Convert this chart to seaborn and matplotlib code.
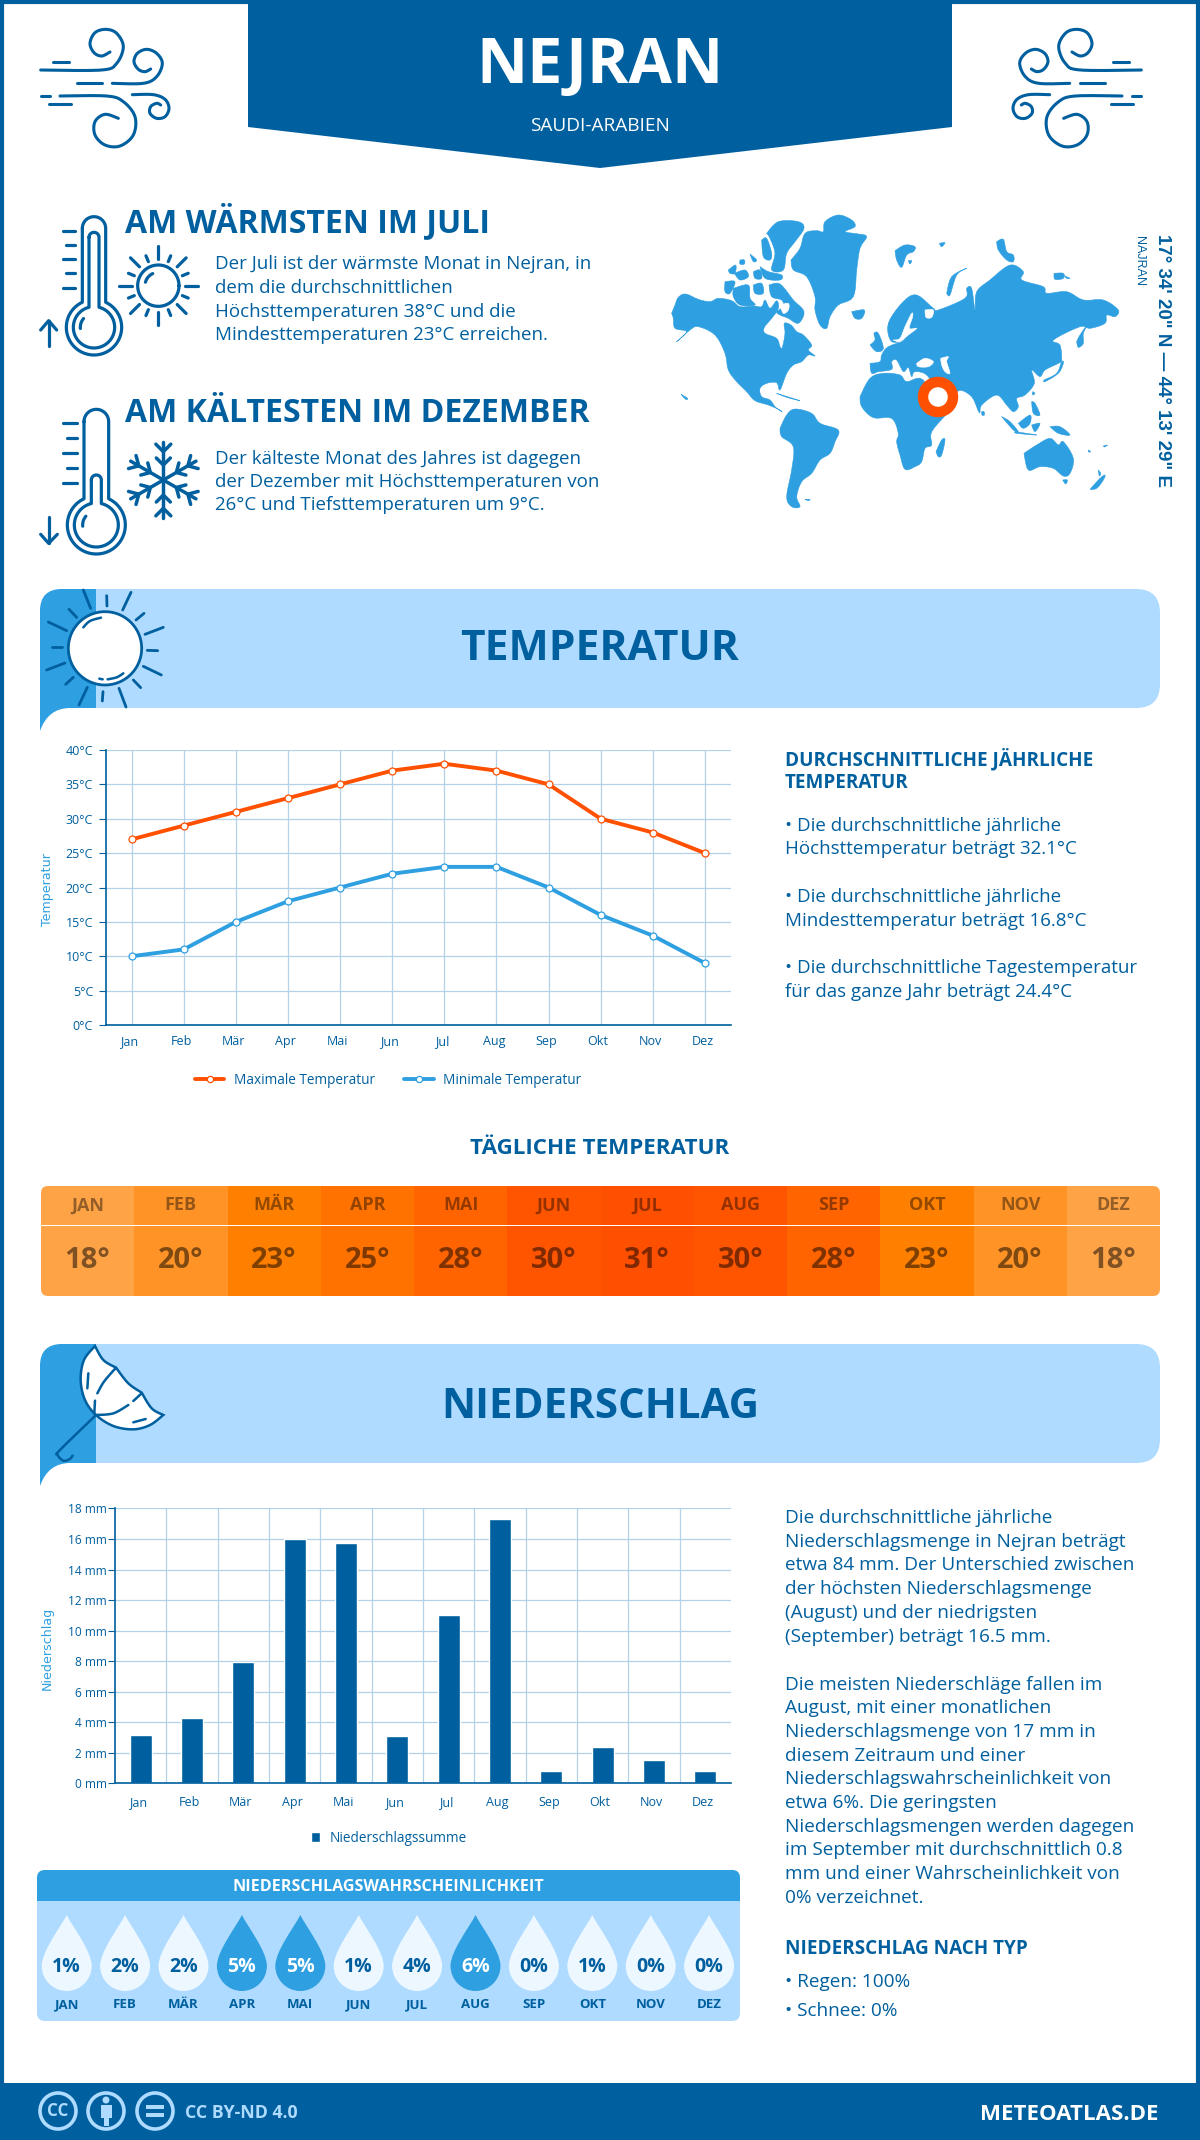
import numpy as np
import pandas as pd
import matplotlib
matplotlib.use('Agg')
import matplotlib.pyplot as plt
from matplotlib.colors import ListedColormap
from matplotlib.lines import Line2D
from matplotlib.patches import Circle, FancyBboxPatch, PathPatch, Polygon, Rectangle
from matplotlib.path import Path
from matplotlib.transforms import ScaledTranslation
import seaborn as sns

# Chart data
months = ['Jan', 'Feb', 'Mär', 'Apr', 'Mai', 'Jun', 'Jul', 'Aug', 'Sep', 'Okt', 'Nov', 'Dez']
months_upper = ['JAN', 'FEB', 'MÄR', 'APR', 'MAI', 'JUN', 'JUL', 'AUG', 'SEP', 'OKT', 'NOV', 'DEZ']
max_temp = [27, 29, 31, 33, 35, 37, 38, 37, 35, 30, 28, 25]
min_temp = [10, 11, 15, 18, 20, 22, 23, 23, 20, 16, 13, 9]
temp_ticks = [0, 5, 10, 15, 20, 25, 30, 35, 40]
daily_temp = [18, 20, 23, 25, 28, 30, 31, 30, 28, 23, 20, 18]
precip = [3.2, 4.3, 7.95, 16.0, 15.75, 3.1, 11.0, 17.3, 0.8, 2.4, 1.5, 0.8]
precip_ticks = [0, 2, 4, 6, 8, 10, 12, 14, 16, 18]
rain_prob = [1, 2, 2, 5, 5, 1, 4, 6, 0, 1, 0, 0]

DARK = '#005F9E'
MID = '#2E9FE0'
LIGHT = '#AEDBFF'
ORANGE = '#FF5000'
GRID = '#B4D2E7'
W, H = 1200, 2140

sns.set_style('white')
plt.rcParams['font.family'] = ['Open Sans', 'DejaVu Sans']

fig = plt.figure(figsize=(W / 100, H / 100), dpi=100, facecolor='white')
bg = fig.add_axes([0, 0, 1, 1])
bg.set_xlim(0, W)
bg.set_ylim(H, 0)
bg.axis('off')


def px_axes(x0, y0, x1, y1):
    ax = fig.add_axes([x0 / W, 1 - y1 / H, (x1 - x0) / W, (y1 - y0) / H])
    ax.patch.set_alpha(0)
    return ax


def label(x, y, s, px, weight='normal', color=DARK, ha='left', **kw):
    bg.text(x, y + 2, s, fontsize=px * 0.72, fontweight=weight, color=color, ha=ha, va='center', **kw)


def smooth(pts, n=14):
    # catmull-rom through the given points, only for the icons and the map
    p = np.array(pts, dtype=float)
    p = np.vstack([p[0], p, p[-1]])
    out = []
    for i in range(1, len(p) - 2):
        for t in np.linspace(0, 1, n, endpoint=False):
            out.append(0.5 * (2 * p[i] + (p[i + 1] - p[i - 1]) * t
                              + (2 * p[i - 1] - 5 * p[i] + 4 * p[i + 1] - p[i + 2]) * t ** 2
                              + (3 * p[i] - p[i - 1] - 3 * p[i + 1] + p[i + 2]) * t ** 3))
    out.append(p[-2])
    return np.array(out)


def stroke(pts, ox, oy, lw=2.0, color=DARK, mirror=None, curve=False, z=3):
    xy = smooth(pts) if curve else np.array(pts, dtype=float)
    x = ox + xy[:, 0] / 3
    y = oy + xy[:, 1] / 3
    if mirror is not None:
        x = mirror - x
    bg.plot(x, y, color=color, lw=lw, solid_capstyle='round', solid_joinstyle='round', zorder=z)


# frame, footer and top banner
bg.add_patch(Rectangle((2, 2), W - 4, H - 4, fc='none', ec=DARK, lw=3))
bg.add_patch(Rectangle((0, 2083), W, 57, fc=DARK, ec='none'))
bg.add_patch(Polygon([(248, 0), (952, 0), (952, 127), (600, 168), (248, 127)], fc=DARK, ec='none'))
label(600, 65, 'NEJRAN', 63, 'bold', 'white', 'center')
label(600, 124, 'SAUDI-ARABIEN', 19, 'normal', 'white', 'center')

# wind icons
wind = [
    [(62, 180), (245, 180), (290, 160), (310, 110), (290, 70), (258, 58), (225, 68), (210, 100), (222, 128), (245, 138), (270, 126)],
    [(277, 220), (370, 220), (410, 200), (427, 160), (410, 130), (380, 118), (352, 130), (342, 155), (355, 178), (375, 185), (392, 177)],
    [(120, 258), (260, 258), (310, 275), (345, 320), (340, 375), (300, 408), (255, 405), (225, 375), (225, 335), (255, 313), (295, 325)],
    [(337, 254), (400, 254), (435, 268), (447, 295), (435, 320), (410, 325), (390, 310), (392, 290), (410, 280), (422, 285)],
]
wind_dashes = [[(100, 155), (148, 155)], [(170, 220), (245, 220)], [(62, 258), (90, 258)], [(87, 283), (153, 283)]]
for mir in (None, 1182):
    for s in wind:
        stroke(s, 20, 10, 2.2, mirror=mir, curve=True)
    for s in wind_dashes:
        stroke(s, 20, 10, 2.2, mirror=mir)


def thermometer(cx, top, half, bulb_y, r_out, r_in, in_half, in_top, ox, oy):
    # outer outline with the bulb, then inner outline
    for h, t, r in ((half, top, r_out), (in_half, in_top, r_in)):
        phi = np.arcsin(h / r)
        a = np.linspace(np.pi / 2 - phi, -3 * np.pi / 2 + phi, 70)
        bx, by = cx + r * np.cos(a), bulb_y - r * np.sin(a)
        tp = np.linspace(np.pi, 0, 24)
        tx, ty = cx + h * np.cos(tp), t + h - h * np.sin(tp)
        stroke(np.column_stack([np.r_[tx, bx, tx[0]], np.r_[ty, by, ty[0]]]), ox, oy, 2.3)
    a = np.radians(np.linspace(140, 185, 12))
    stroke(np.column_stack([cx + 41 * np.cos(a), bulb_y - 41 * np.sin(a)]), ox, oy, 2.3)


thermometer(222, 50, 35, 382, 83, 62, 15, 97, 20, 200)
for y, x0 in zip([93, 135, 178, 220, 263], [128, 138, 128, 138, 128]):
    stroke([(x0, y), (165, y)], 20, 200, 2.3)
stroke([(86, 438), (86, 362)], 20, 200, 2.3)
stroke([(62, 390), (86, 362), (110, 390)], 20, 200, 2.3)

thermometer(229, 628, 37, 975, 87, 66, 15, 825, 20, 200)
for y, x0 in zip([670, 715, 760, 803, 848], [130, 140, 130, 140, 130]):
    stroke([(x0, y), (170, y)], 20, 200, 2.3)
stroke([(86, 950), (86, 1030)], 20, 200, 2.3)
stroke([(62, 1003), (86, 1030), (112, 1003)], 20, 200, 2.3)

# small sun
a = np.linspace(0, 2 * np.pi, 80)
stroke(np.column_stack([415 + 62 * np.cos(a), 257 + 62 * np.sin(a)]), 20, 200, 2.3)
a = np.radians(np.linspace(115, 165, 12))
stroke(np.column_stack([415 + 40 * np.cos(a), 257 - 40 * np.sin(a)]), 20, 200, 2.3)
for deg in range(0, 360, 45):
    t = np.radians(deg)
    stroke([(415 + 80 * np.cos(t), 257 + 80 * np.sin(t)), (415 + 118 * np.cos(t), 257 + 118 * np.sin(t))], 20, 200, 2.3)
    t = np.radians(deg + 22.5)
    stroke([(415 + 78 * np.cos(t), 257 + 78 * np.sin(t)), (415 + 97 * np.cos(t), 257 + 97 * np.sin(t))], 20, 200, 2.3)

# snowflake
for deg in range(30, 390, 60):
    t = np.radians(deg)
    d = np.array([np.cos(t), np.sin(t)])
    n = np.array([-d[1], d[0]])
    c = np.array([430, 840])
    stroke([c, c + 113 * d], 20, 200, 2.5)
    for dist, size in ((85, 30), (45, 28)):
        b = c + dist * d
        stroke([b + size * (0.75 * d + 0.75 * n), b, b + size * (0.75 * d - 0.75 * n)], 20, 200, 2.5)

# headings beside the icons
label(125, 219.5, 'AM WÄRMSTEN IM JULI', 32, 'bold')
warm_lines = ['Der Juli ist der wärmste Monat in Nejran, in', 'dem die durchschnittlichen',
              'Höchsttemperaturen 38°C und die', 'Mindesttemperaturen 23°C erreichen.']
for i, s in enumerate(warm_lines):
    label(215, 262 + i * 23.8, s, 18.8)
label(125, 412, 'AM KÄLTESTEN IM DEZEMBER', 32, 'bold')
cold_lines = ['Der kälteste Monat des Jahres ist dagegen', 'der Dezember mit Höchsttemperaturen von',
              '26°C und Tiefsttemperaturen um 9°C.']
for i, s in enumerate(cold_lines):
    label(215, 457 + i * 23.2, s, 18.8)

# world map, outlines sketched from three crops of the picture
crop_a = [
    [(20, 310), (30, 285), (40, 262), (62, 252), (100, 268), (135, 275), (160, 265), (200, 272), (225, 290), (265, 288), (290, 290), (300, 270), (315, 295), (335, 272), (340, 295), (320, 325), (298, 352), (300, 370), (335, 385), (345, 410), (352, 412), (360, 370), (358, 340), (378, 345), (395, 365), (415, 375), (440, 405), (430, 420), (450, 438), (430, 435), (410, 455), (385, 465), (365, 490), (345, 540), (335, 518), (305, 520), (285, 535), (290, 560), (315, 570), (330, 590), (350, 605), (345, 600), (310, 585), (270, 572), (245, 545), (215, 515), (190, 480), (180, 430), (150, 375), (100, 350), (75, 360), (35, 395), (65, 365), (30, 355), (25, 325)],
    [(312, 225), (345, 222), (385, 270), (417, 305), (400, 340), (370, 325), (345, 315), (335, 305), (355, 290), (350, 270), (320, 260)],
    [(205, 235), (250, 225), (255, 265), (270, 285), (225, 285), (205, 260)],
    [(180, 215), (210, 215), (195, 250), (180, 245)],
    [(265, 225), (290, 220), (295, 250), (270, 250)],
    [(190, 180), (212, 165), (210, 190), (195, 190)],
    [(208, 190), (240, 180), (250, 200), (225, 210)],
    [(265, 185), (285, 180), (290, 205), (270, 205)],
    [(285, 170), (310, 185), (350, 195), (345, 210), (300, 205)],
    [(255, 132), (275, 150), (265, 155)],
    [(225, 150), (238, 150), (238, 162), (225, 162)],
    [(305, 70), (340, 35), (400, 35), (417, 55), (390, 95), (365, 130), (355, 180), (320, 180), (330, 130), (315, 85)],
    [(290, 90), (305, 85), (320, 130), (315, 150), (295, 140)],
    [(378, 150), (405, 115), (420, 70), (455, 62), (475, 65), (480, 35), (520, 15), (560, 30), (570, 50), (540, 65), (580, 72), (605, 80), (585, 115), (575, 180), (565, 260), (520, 285), (495, 320), (485, 355), (465, 345), (450, 300), (450, 260), (425, 200), (385, 180)],
    [(560, 305), (598, 300), (590, 325), (570, 325)],
    [(335, 550), (405, 572), (365, 562)],
    [(345, 655), (365, 615), (390, 597), (440, 610), (465, 640), (520, 660), (510, 695), (495, 730), (465, 750), (440, 790), (410, 815), (395, 860), (405, 890), (380, 890), (365, 860), (380, 780), (385, 710), (350, 680)],
    [(48, 553), (68, 565), (62, 568)],
    [(420, 868), (435, 868), (430, 872)],
]
crop_b = [
    [(60, 400), (90, 395), (95, 375), (115, 350), (170, 330), (125, 335), (115, 280), (160, 215), (200, 195), (250, 235), (265, 240), (345, 205), (350, 175), (365, 175), (375, 240), (380, 185), (420, 150), (480, 105), (520, 125), (515, 150), (580, 170), (590, 190), (650, 185), (700, 210), (760, 210), (805, 240), (795, 260), (770, 255), (765, 280), (720, 295), (690, 290), (610, 330), (630, 345), (635, 390), (625, 400), (585, 420), (570, 440), (545, 420), (553, 460), (525, 495), (500, 505), (505, 530), (490, 545), (470, 525), (440, 495), (395, 525), (388, 548), (365, 500), (325, 482), (300, 530), (270, 520), (235, 440), (195, 425), (185, 440), (175, 412), (160, 425), (140, 390), (125, 395), (125, 418), (85, 425), (65, 430)],
    [(60, 345), (75, 330), (72, 310), (85, 310), (100, 355), (80, 365)],
    [(135, 62), (165, 45), (195, 50), (190, 65), (170, 75), (155, 112), (140, 90)],
    [(175, 92), (185, 92), (180, 102)],
    [(268, 40), (285, 38), (275, 50)],
    [(290, 190), (305, 140), (350, 115), (320, 135), (300, 195)],
    [(440, 35), (460, 28), (470, 65), (490, 75), (490, 95), (470, 90), (445, 60)],
    [(612, 130), (640, 130), (640, 145), (615, 148)],
    [(645, 138), (660, 145), (650, 145)],
    [(680, 335), (690, 315), (715, 280), (700, 310), (700, 340), (685, 352)],
    [(582, 450), (620, 430), (635, 395), (640, 400), (625, 430), (585, 455)],
]
crop_c = [
    [(30, 80), (60, 25), (100, 10), (150, 15), (170, 35), (220, 30), (270, 135), (295, 125), (245, 185), (245, 225), (225, 235), (215, 275), (195, 290), (165, 298), (150, 255), (140, 215), (145, 190), (125, 145), (70, 143), (35, 110)],
    [(258, 245), (275, 210), (285, 210), (275, 255), (265, 260)],
    [(395, 125), (402, 125), (403, 135), (396, 135)],
    [(455, 140), (480, 155), (505, 185), (490, 180)],
    [(495, 185), (560, 195), (500, 190)],
    [(505, 160), (540, 135), (540, 160), (520, 175)],
    [(545, 165), (570, 160), (555, 185)],
    [(545, 95), (555, 100), (570, 135), (550, 130)],
    [(600, 170), (630, 170), (660, 195), (625, 190)],
    [(522, 250), (560, 225), (600, 205), (625, 225), (640, 215), (670, 265), (660, 310), (640, 318), (610, 295), (570, 290), (535, 300)],
    [(638, 330), (652, 330), (647, 342)],
    [(720, 358), (750, 325), (765, 315), (760, 330), (740, 355)],
    [(745, 300), (752, 310), (748, 318)],
    [(548, 65), (555, 70), (548, 75)],
    [(715, 240), (722, 245), (716, 246)],
    [(760, 228), (772, 225), (764, 231)],
]
water_a = [[(345, 285), (370, 280), (370, 300), (355, 310)]]
water_b = [
    [(200, 400), (225, 385), (250, 395), (235, 410), (205, 410)],
    [(272, 385), (295, 380), (290, 395), (300, 430), (285, 425), (275, 405)],
    [(225, 240), (250, 240), (245, 262), (228, 262)],
    [(130, 330), (150, 325), (165, 290), (185, 250), (188, 260), (178, 295), (200, 295), (175, 315), (150, 335)],
]


def map_shape(poly, ox, oy, col):
    s = smooth(list(poly) + [poly[0]], n=5)
    bg.add_patch(Polygon(np.column_stack([ox + s[:, 0] / 3, oy + s[:, 1] / 3]), fc=col, ec=col, lw=0.4,
                         joinstyle='round'))


for poly in crop_a:
    map_shape(poly, 665, 210, MID)
for poly in crop_b:
    map_shape(poly, 850, 230, MID)
for poly in crop_c:
    map_shape(poly, 850, 370, MID)
for poly in water_a:
    map_shape(poly, 665, 210, 'white')
for poly in water_b:
    map_shape(poly, 850, 230, 'white')
bg.add_patch(Circle((938, 397), 15, fc='white', ec=ORANGE, lw=7.5, zorder=4))
bg.text(1162, 361, '17° 34\' 20" N — 44° 13\' 29" E', rotation=-90, ha='center', va='center', color=DARK,
        fontsize=13.5, fontweight='bold', family='Liberation Sans')
bg.text(1139, 261, 'NAJRAN', rotation=-90, ha='center', va='center', color=DARK, fontsize=9, family='Liberation Sans')


def section_banner(top, title, size, dy):
    bottom = top + 119
    bg.add_patch(FancyBboxPatch((40, top), 1120, 119, boxstyle='round,pad=0,rounding_size=24', fc=LIGHT, ec='none'))
    verts = [(40, bottom + 23), (40, top + 22), (40, top), (62, top), (96, top), (96, bottom), (70, bottom),
             (48, bottom), (40, bottom + 23), (40, bottom + 23)]
    codes = [Path.MOVETO, Path.LINETO, Path.CURVE3, Path.CURVE3, Path.LINETO, Path.LINETO, Path.LINETO,
             Path.CURVE3, Path.CURVE3, Path.CLOSEPOLY]
    bg.add_patch(PathPatch(Path(verts, codes), fc=MID, ec='none'))
    label(600, top + dy, title, size, 'bold', ha='center')


section_banner(589, 'TEMPERATUR', 42.5, 59)
section_banner(1344, 'NIEDERSCHLAG', 42, 61)

# sun in the temperature banner
a = np.linspace(0, 2 * np.pi, 90)
bx, by = 225 + 110 * np.cos(a), 190 + 110 * np.sin(a)
bg.fill(30 + bx / 3, 585 + by / 3, fc='white', ec=DARK, lw=2, zorder=3)
rays = [((160, 15), (182, 70)), ((230, 32), (231, 63)), ((303, 22), (278, 75)), ((342, 85), (318, 105)),
        ((400, 127), (345, 148)), ((383, 197), (352, 196)), ((394, 270), (340, 244)), ((332, 308), (310, 285)),
        ((288, 366), (267, 310)), ((217, 348), (219, 320)), ((147, 360), (172, 307)), ((130, 277), (107, 298)),
        ((105, 234), (50, 255)), ((97, 185), (66, 185)), ((110, 137), (55, 111)), ((140, 97), (117, 73))]
for r in rays:
    stroke(r, 30, 585, 2.0)
stroke([(160, 127), (180, 108), (213, 98)], 30, 585, 1.8, curve=True, z=4)
stroke([(233, 283), (260, 277), (280, 265)], 30, 585, 1.8, curve=True, z=4)
stroke([(208, 281), (218, 283)], 30, 585, 1.8, z=4)

# umbrella in the precipitation banner
canopy = smooth([(195, 48), (162, 90), (152, 150), (165, 210), (198, 255), (250, 288), (310, 298), (360, 285), (400, 255)])
rim = np.vstack([smooth([(400, 255), (365, 235), (335, 188)]), smooth([(335, 188), (295, 160), (258, 113)]),
                 smooth([(258, 113), (220, 90), (195, 48)])])
shape = np.vstack([canopy, rim])
bg.fill(30 + shape[:, 0] / 3, 1330 + shape[:, 1] / 3, fc='white', ec=DARK, lw=1.8, zorder=3)
stroke([(258, 113), (222, 155), (202, 190)], 30, 1330, 1.8, curve=True, z=4)
stroke([(195, 212), (193, 250)], 30, 1330, 1.8, z=4)
stroke([(198, 255), (250, 250), (295, 225)], 30, 1330, 1.8, curve=True, z=4)
stroke([(310, 213), (335, 190)], 30, 1330, 1.8, z=4)
stroke([(175, 130), (172, 175)], 30, 1330, 1.8, z=4)
stroke([(310, 277), (347, 267)], 30, 1330, 1.8, z=4)
stroke([(198, 255), (90, 360), (83, 375), (100, 392), (118, 388), (128, 377)], 30, 1330, 1.8, curve=True)

# x tick labels sit a little left of the category centre in the original
shift_left = ScaledTranslation(-2.5 / 100, 0, fig.dpi_scale_trans)

# temperature chart
temp_df = pd.DataFrame({'Monat': months * 2,
                        'Temperatur': max_temp + min_temp,
                        'Serie': ['Maximale Temperatur'] * 12 + ['Minimale Temperatur'] * 12})
ax = px_axes(105.6, 750, 731, 1025)
sns.lineplot(data=temp_df, x='Monat', y='Temperatur', hue='Serie', palette=[ORANGE, MID], sort=False,
             errorbar=None, ax=ax, lw=2.8, marker='o', markersize=5, markerfacecolor='white',
             markeredgewidth=0.9)
for line, col in zip(ax.get_lines(), [ORANGE, MID]):
    line.set_markeredgecolor(col)
ax.set_xlim(-0.5, 11.5)
ax.set_ylim(0, 40)
ax.set_yticks(temp_ticks)
ax.set_yticklabels([f'{t}°C' for t in temp_ticks])
ax.grid(True, color=GRID, lw=0.9)
ax.set_axisbelow(True)
sns.despine(ax=ax, top=True, right=True)
ax.spines['left'].set_color(DARK)
ax.spines['bottom'].set_color(DARK)
ax.spines['left'].set_linewidth(1.2)
ax.spines['bottom'].set_linewidth(1.2)
ax.tick_params(axis='y', length=5, width=0.8, color=DARK, labelsize=9, labelcolor=DARK, pad=4, left=True)
ax.tick_params(axis='x', length=0, labelsize=9, labelcolor=DARK, pad=7)
for tick in ax.get_xticklabels():
    tick.set_transform(tick.get_transform() + shift_left)
ax.set_xlabel('')
ax.set_ylabel('')
handles = [Line2D([], [], color=c, lw=2.8, marker='o', markersize=4.5, markerfacecolor='white', markeredgewidth=0.9,
                  markeredgecolor=c) for c in (ORANGE, MID)]
ax.legend(handles, ['Maximale Temperatur', 'Minimale Temperatur'], ncol=2, frameon=False, loc='center',
          bbox_to_anchor=((388 - 105.6) / 625.4, -55 / 275), fontsize=9.8, labelcolor=DARK, handlelength=2.2,
          columnspacing=2.1, handletextpad=0.7)
bg.text(47, 889, 'Temperatur', rotation=90, ha='center', va='center', color=MID, fontsize=9.1, family='DejaVu Sans')

# temperature text on the right
label(785, 757, 'DURCHSCHNITTLICHE JÄHRLICHE', 18.9, 'bold')
label(785, 780.5, 'TEMPERATUR', 18.9, 'bold')
temp_notes = [(824, '• Die durchschnittliche jährliche'), (847.5, 'Höchsttemperatur beträgt 32.1°C'),
              (895, '• Die durchschnittliche jährliche'), (919, 'Mindesttemperatur beträgt 16.8°C'),
              (966, '• Die durchschnittliche Tagestemperatur'), (990, 'für das ganze Jahr beträgt 24.4°C')]
for y, s in temp_notes:
    label(785, y, s, 18.8)
label(600, 1147, 'TÄGLICHE TEMPERATUR', 22.4, 'bold', ha='center')

# daily temperature strip
strip_colors = {18: '#FFA347', 20: '#FF9326', 23: '#FF7F00', 25: '#FF7200', 28: '#FF6400', 30: '#FF5500', 31: '#FF4F00'}
levels = sorted(strip_colors)
cmap = ListedColormap([strip_colors[v] for v in levels])
index = np.array([[levels.index(v) for v in daily_temp]])
strip_clip = FancyBboxPatch((41, 1186), 1119, 110, boxstyle='round,pad=0,rounding_size=7', transform=bg.transData)
head_ax = px_axes(41, 1186, 1160, 1224.5)
sns.heatmap(index, cmap=cmap, vmin=-0.5, vmax=len(levels) - 0.5, cbar=False, ax=head_ax, xticklabels=False,
            yticklabels=False, annot=np.array([months_upper]), fmt='',
            annot_kws={'fontsize': 13, 'fontweight': 'bold', 'color': 'black', 'alpha': 0.42})
val_ax = px_axes(41, 1225.5, 1160, 1296)
sns.heatmap(index, cmap=cmap, vmin=-0.5, vmax=len(levels) - 0.5, cbar=False, ax=val_ax, xticklabels=False,
            yticklabels=False, annot=np.array([[f'{v}°' for v in daily_temp]]), fmt='',
            annot_kws={'fontsize': 21, 'fontweight': 'bold', 'color': 'black', 'alpha': 0.5})
head_ax.collections[0].set_clip_path(strip_clip)
val_ax.collections[0].set_clip_path(strip_clip)

# precipitation chart
ax2 = px_axes(115, 1508.4, 731, 1783.4)
sns.barplot(x=months, y=precip, color=DARK, saturation=1, width=0.43, ax=ax2, label='Niederschlagssumme')
ax2.set_xlim(-0.5, 11.5)
ax2.set_ylim(0, 18)
ax2.set_yticks(precip_ticks)
ax2.set_yticklabels([f'{t} mm' for t in precip_ticks])
ax2.set_xticks(np.arange(0.5, 11.5), minor=True)
ax2.grid(True, axis='y', color=GRID, lw=0.9)
ax2.grid(True, axis='x', which='minor', color=GRID, lw=0.9)
ax2.grid(False, axis='x', which='major')
ax2.set_axisbelow(True)
sns.despine(ax=ax2, top=True, right=True)
ax2.spines['left'].set_color(DARK)
ax2.spines['bottom'].set_color(DARK)
ax2.spines['left'].set_linewidth(1.2)
ax2.spines['bottom'].set_linewidth(1.2)
ax2.tick_params(axis='y', length=5, width=0.8, color=DARK, labelsize=8.6, labelcolor=DARK, pad=1, left=True)
ax2.tick_params(axis='x', which='major', length=0, labelsize=9, labelcolor=DARK, pad=9)
ax2.tick_params(axis='x', which='minor', length=0)
for tick in ax2.get_xticklabels():
    tick.set_transform(tick.get_transform() + shift_left)
ax2.set_xlabel('')
ax2.set_ylabel('')
ax2.legend(frameon=False, loc='center', bbox_to_anchor=((389 - 115) / 616, -55 / 275), fontsize=9.8,
           labelcolor=DARK, handlelength=0.7, handleheight=0.7, handletextpad=0.7)
bg.text(47, 1648, 'Niederschlag', rotation=90, ha='center', va='center', color=MID, fontsize=9.1, family='DejaVu Sans')

# precipitation text on the right
precip_lines = ['Die durchschnittliche jährliche', 'Niederschlagsmenge in Nejran beträgt',
                'etwa 84 mm. Der Unterschied zwischen', 'der höchsten Niederschlagsmenge',
                '(August) und der niedrigsten', '(September) beträgt 16.5 mm.']
precip_lines2 = ['Die meisten Niederschläge fallen im', 'August, mit einer monatlichen',
                 'Niederschlagsmenge von 17 mm in', 'diesem Zeitraum und einer',
                 'Niederschlagswahrscheinlichkeit von', 'etwa 6%. Die geringsten',
                 'Niederschlagsmengen werden dagegen', 'im September mit durchschnittlich 0.8',
                 'mm und einer Wahrscheinlichkeit von', '0% verzeichnet.']
for i, s in enumerate(precip_lines):
    label(785, 1516 + i * 23.7, s, 19)
for i, s in enumerate(precip_lines2):
    label(785, 1682.5 + i * 23.7, s, 19)
label(785, 1947, 'NIEDERSCHLAG NACH TYP', 18.9, 'bold')
label(785, 1980, '• Regen: 100%', 19)
label(785, 2009, '• Schnee: 0%', 19)

# rain probability panel
bg.add_patch(FancyBboxPatch((37, 1870), 703, 151, boxstyle='round,pad=0,rounding_size=8', fc=LIGHT, ec='none'))
bg.add_patch(FancyBboxPatch((37, 1870), 703, 60, boxstyle='round,pad=0,rounding_size=8', fc=MID, ec='none'))
bg.add_patch(Rectangle((37, 1901), 703, 32, fc=LIGHT, ec='none'))
label(388, 1885, 'NIEDERSCHLAGSWAHRSCHEINLICHKEIT', 16.1, 'bold', 'white', 'center')

k = 0.55
drop = Path([(0, 38), (-6, 26), (-25, 2), (-25, -13),
             (-25, -13 - 25 * k), (-25 * k, -38), (0, -38),
             (25 * k, -38), (25, -13 - 25 * k), (25, -13),
             (25, 2), (6, 26), (0, 38), (0, 38)],
            [Path.MOVETO] + [Path.CURVE4] * 12 + [Path.CLOSEPOLY])
drop_df = pd.DataFrame({'Monat': months_upper, 'y': [0] * 12,
                        'stark': ['ja' if p >= 5 else 'nein' for p in rain_prob]})
ax3 = px_axes(37.5, 1901, 738.3, 2021)
sns.scatterplot(data=drop_df, x='Monat', y='y', hue='stark', palette={'ja': MID, 'nein': '#EDF7FF'}, marker=drop,
                s=2994, linewidth=0, legend=False, ax=ax3)
ax3.set_xlim(-0.5, 11.5)
ax3.set_ylim(-68, 52)
ax3.axis('off')
for i, p in enumerate(rain_prob):
    ax3.text(i, -14, f'{p}%', ha='center', va='center', fontsize=14, fontweight='bold',
             color='white' if p >= 5 else DARK)
    ax3.text(i, -52, months_upper[i], ha='center', va='center', fontsize=9.5, fontweight='bold', color=DARK)

# footer
for cx in (58, 106, 155):
    bg.add_patch(Circle((cx, 2111), 18, fc='none', ec=LIGHT, lw=2.6))
label(58, 2109, 'CC', 17, 'bold', LIGHT, 'center')
bg.add_patch(Circle((106, 2100), 3.5, fc=LIGHT, ec='none'))
bg.add_patch(Rectangle((100.5, 2105), 11, 13, fc=LIGHT, ec='none'))
bg.add_patch(Rectangle((103.5, 2117), 5, 9, fc=LIGHT, ec='none'))
bg.add_patch(Rectangle((146, 2105), 18, 3.5, fc=LIGHT, ec='none'))
bg.add_patch(Rectangle((146, 2113), 18, 3.5, fc=LIGHT, ec='none'))
label(185, 2111, 'CC BY-ND 4.0', 17.7, 'bold', LIGHT)
label(1158, 2112, 'METEOATLAS.DE', 22.3, 'bold', 'white', 'right')

fig.savefig('out.png', dpi=100)
